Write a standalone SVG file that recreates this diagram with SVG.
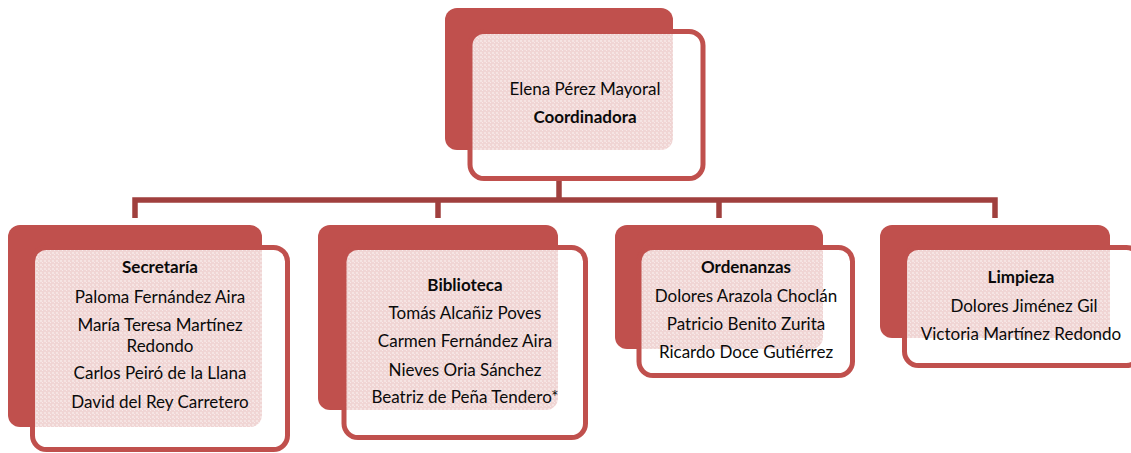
<svg xmlns="http://www.w3.org/2000/svg" width="1131" height="453" viewBox="0 0 1131 453">
  <defs>
    <pattern id="dots" width="4" height="4" patternUnits="userSpaceOnUse">
      <rect width="4" height="4" fill="#fff" fill-opacity="0.76"/>
      <rect x="0" y="0" width="2" height="2" fill="#fff" fill-opacity="0.35"/>
      <rect x="2" y="2" width="1" height="1" fill="#fff" fill-opacity="0.5"/>
    </pattern>
    <style>
      .back { fill: #C0504D; }
      .front { fill: url(#dots); stroke: #C0504D; stroke-width: 5; }
      .conn { fill: none; stroke: #A0403E; stroke-width: 5.5; stroke-linejoin: miter; }
      text { font-family: Lato, "Open Sans", sans-serif; font-size: 17px; fill: #0a0a0a; text-anchor: middle; }
      .b { font-weight: bold; }
    </style>
  </defs>
  <rect width="1131" height="453" fill="#fff"/>

  <g id="connectors">
    <path class="conn" d="M559,181 V200"/>
    <path class="conn" d="M135,218 V200 H995 V218"/>
    <path class="conn" d="M438,200 V218"/>
    <path class="conn" d="M719,200 V218"/>
  </g>

  <g id="coordinadora">
    <rect class="back" x="445" y="8" width="228" height="142" rx="12"/>
    <rect class="front" x="470" y="31.5" width="233" height="147" rx="14"/>
    <text x="585" y="95">Elena Pérez Mayoral</text>
    <text class="b" x="585" y="123">Coordinadora</text>
  </g>

  <g id="secretaria">
    <rect class="back" x="8" y="225" width="254" height="202" rx="12"/>
    <rect class="front" x="32.5" y="247.5" width="255" height="202" rx="14"/>
    <text class="b" x="160" y="273">Secretaría</text>
    <text x="160" y="303">Paloma Fernández Aira</text>
    <text x="160" y="331">María Teresa Martínez</text>
    <text x="160" y="352">Redondo</text>
    <text x="160" y="379">Carlos Peiró de la Llana</text>
    <text x="160" y="408">David del Rey Carretero</text>
  </g>

  <g id="biblioteca">
    <rect class="back" x="318" y="225" width="240" height="185" rx="12"/>
    <rect class="front" x="344" y="247.5" width="241.5" height="190" rx="14"/>
    <text class="b" x="465" y="291">Biblioteca</text>
    <text x="465" y="319">Tomás Alcañiz Poves</text>
    <text x="465" y="347">Carmen Fernández Aira</text>
    <text x="465" y="376">Nieves Oria Sánchez</text>
    <text x="465" y="403">Beatriz de Peña Tendero*</text>
  </g>

  <g id="ordenanzas">
    <rect class="back" x="615" y="225" width="208" height="124" rx="12"/>
    <rect class="front" x="639" y="247.5" width="213.5" height="128" rx="14"/>
    <text class="b" x="746" y="273">Ordenanzas</text>
    <text x="746" y="302">Dolores Arazola Choclán</text>
    <text x="746" y="330">Patricio Benito Zurita</text>
    <text x="746" y="358">Ricardo Doce Gutiérrez</text>
  </g>

  <g id="limpieza">
    <rect class="back" x="880" y="225" width="230" height="113" rx="12"/>
    <rect class="front" x="904.5" y="247.5" width="236" height="118" rx="14"/>
    <text class="b" x="1021" y="283">Limpieza</text>
    <text x="1024" y="312">Dolores Jiménez Gil</text>
    <text x="1021" y="340">Victoria Martínez Redondo</text>
  </g>
</svg>
